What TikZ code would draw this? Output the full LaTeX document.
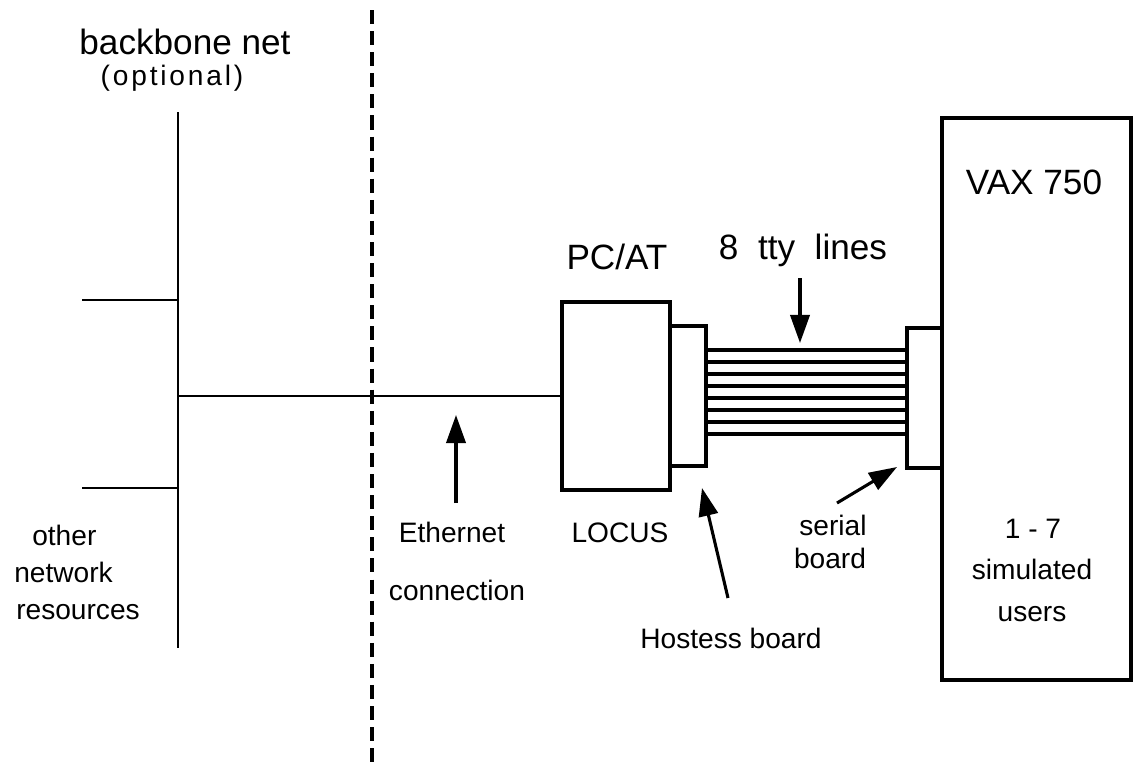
\documentclass[tikz,border=0pt]{standalone}
\usepackage{fontspec}
\setmainfont{Liberation Sans}
\newfontfamily\loosefont[LetterSpace=10]{Liberation Sans}
\usetikzlibrary{arrows.meta}

\tikzset{
    unit/.style={draw=black, line width=2.6pt, inner sep=0pt, outer sep=0pt},
    wire/.style={black, line width=2pt},
    tty/.style={black, line width=2.4pt},
    divider/.style={black, line width=2.8pt, dash pattern=on 10pt off 5pt},
    pointer/.style={-{Triangle[length=7mm, width=4.8mm]}, black, line width=2.2pt},
    big label/.style={font=\fontsize{25}{30}\selectfont, inner sep=0pt, text height=18pt, text depth=0pt},
    small label/.style={font=\fontsize{20}{24}\selectfont, inner sep=0pt, text height=14.4pt, text depth=0pt},
}

\begin{document}
\begin{tikzpicture}[x=0.025cm, y=-0.025cm]
    \useasboundingbox (0,0) rectangle (1133,769);

    % Backbone net with its taps, and the boundary of the set-up
    \coordinate (bb top) at (178,112);
    \coordinate (bb bottom) at (178,648);
    \coordinate (bb tap) at (178,396);
    \coordinate (stub a) at (82,300);
    \coordinate (stub b) at (82,488);
    \draw[wire] (bb top) -- (bb bottom);
    \draw[wire] (stub a) -- (bb top |- stub a);
    \draw[wire] (stub b) -- (bb top |- stub b);
    \coordinate (cut top) at (372,10);
    \coordinate (cut bottom) at (372,769);
    \draw[divider] (cut top) -- (cut bottom);
    \node[big label] (backbone) at (185,42) {backbone net};
    \node[small label, font=\loosefont\fontsize{20}{24}\selectfont] (optional) at (172,75) {(optional)};
    \node[small label, anchor=west] (other) at (32,535) {other};
    \node[small label, anchor=west] (network) at (14,572) {network};
    \node[small label, anchor=west] (resources) at (16,609) {resources};

    % PC/AT running LOCUS, with the Hostess board
    \node[unit, minimum width=2.7cm, minimum height=4.7cm] (pcat) at (616,396) {};
    \node[unit, minimum width=0.9cm, minimum height=3.5cm, anchor=west] (hostess) at (pcat.east) {};
    \node[big label] (pcat label) at (617,257) {PC/AT};
    \node[small label] (locus) at (620,532) {LOCUS};
    \draw[wire] (bb tap) -- (pcat.west);

    % VAX 750 with its serial board
    \node[unit, minimum width=4.725cm, minimum height=14.05cm] (vax) at (1036.5,399) {};
    \node[unit, minimum width=0.875cm, minimum height=3.5cm] (serial) at (924.5,398) {};
    \node[big label] (vax label) at (1034,182) {VAX 750};
    \node[small label] (users a) at (1033,528) {1 - 7};
    \node[small label] (users b) at (1032,569) {simulated};
    \node[small label] (users c) at (1032,611) {users};

    % the eight tty lines
    \foreach \y in {350,362,...,434} {
        \coordinate (tty) at (0,\y);
        \draw[tty] (hostess.east |- tty) -- (serial.west |- tty);
    }
    \node[big label] (tty label) at (803,247) {8~~tty~~lines};

    % pointers and their labels
    \coordinate (eth tail) at (456,503);
    \coordinate (eth tip) at (456,415);
    \draw[pointer] (eth tail) -- (eth tip);
    \node[small label] (ethernet) at (452,532) {Ethernet};
    \node[small label] (connection) at (457,590) {connection};

    \coordinate (tty tail) at (800,278);
    \coordinate (tty tip) at (800,343);
    \draw[pointer] (tty tail) -- (tty tip);

    \coordinate (hostess tail) at (728,598);
    \coordinate (hostess tip) at (702,488);
    \draw[pointer] (hostess tail) -- (hostess tip);
    \node[small label] (hostess label) at (731,638) {Hostess board};

    \coordinate (serial tail) at (837,503);
    \coordinate (serial tip) at (897,467);
    \draw[pointer] (serial tail) -- (serial tip);
    \node[small label] (serial a) at (833,525) {serial};
    \node[small label] (serial b) at (830,558) {board};

\end{tikzpicture}
\end{document}
